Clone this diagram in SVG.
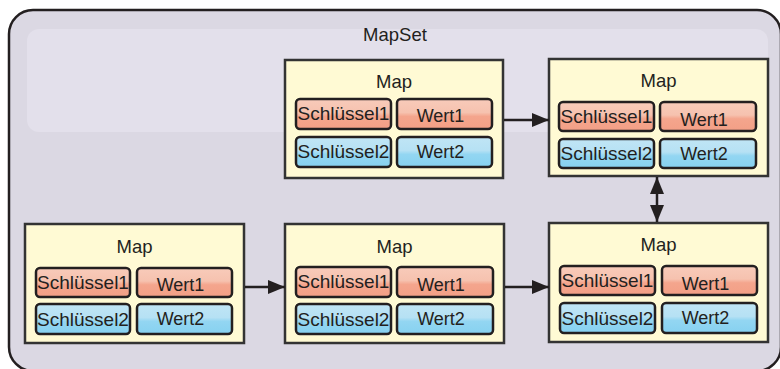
<svg xmlns="http://www.w3.org/2000/svg" width="780" height="369" viewBox="0 0 780 369">
<defs>
<linearGradient id="gk" x1="0" y1="0" x2="0" y2="1">
<stop offset="0" stop-color="#f8cbba"/><stop offset="0.45" stop-color="#f6c2af"/><stop offset="0.58" stop-color="#f4a58d"/><stop offset="1" stop-color="#f39f86"/>
</linearGradient>
<linearGradient id="gv" x1="0" y1="0" x2="0" y2="1">
<stop offset="0" stop-color="#c0e5f5"/><stop offset="0.45" stop-color="#b6e1f4"/><stop offset="0.58" stop-color="#93d6f2"/><stop offset="1" stop-color="#86d1f0"/>
</linearGradient>
<marker id="ah" markerWidth="17" markerHeight="14" refX="17" refY="7" orient="auto-start-reverse" markerUnits="userSpaceOnUse">
<path d="M0,0 L17,7 L0,14 Z" fill="#231f20"/>
</marker>
<style>
text{font-family:"Liberation Sans",Arial,sans-serif;font-size:18px;fill:#231f20;text-anchor:middle}
text.t{font-size:18.5px}
text.k{font-size:19px}
.map{fill:#fffad4;stroke:#333;stroke-width:2.5}
.k1{fill:url(#gk);stroke:#231f20;stroke-width:2.5}
.k2{fill:url(#gv);stroke:#231f20;stroke-width:2.5}
.conn{stroke:#231f20;stroke-width:2.5;fill:none}
</style>
</defs>
<g id="mapset">
<rect x="9" y="10" width="772" height="361" rx="24" fill="#dbd8e3" stroke="#231f20" stroke-width="2.5"/>
<rect x="27" y="29" width="741" height="103" rx="12" fill="#e3e0eb"/>
<text class="t" x="395" y="41">MapSet</text>
</g>
<g id="map-top-middle">
<rect class="map" x="285" y="60" width="218" height="118"/>
<text class="t" x="394" y="88">Map</text>
<rect class="k1" x="296" y="99" width="95" height="30" rx="4"/>
<text class="k" x="343.5" y="120">Schlüssel1</text>
<rect class="k1" x="397" y="99" width="95" height="30" rx="4"/>
<text x="440.5" y="122">Wert1</text>
<rect class="k2" x="296" y="137" width="95" height="30" rx="4"/>
<text class="k" x="343.5" y="158">Schlüssel2</text>
<rect class="k2" x="397" y="137" width="95" height="30" rx="4"/>
<text x="440.5" y="158">Wert2</text>
</g>
<g id="map-top-right">
<rect class="map" x="549" y="59" width="219" height="117"/>
<text class="t" x="658.5" y="87">Map</text>
<rect class="k1" x="559" y="102" width="95" height="29" rx="4"/>
<text class="k" x="606.5" y="123">Schlüssel1</text>
<rect class="k1" x="660" y="102" width="96" height="29" rx="4"/>
<text x="704" y="126">Wert1</text>
<rect class="k2" x="559" y="139" width="95" height="29" rx="4"/>
<text class="k" x="606.5" y="160">Schlüssel2</text>
<rect class="k2" x="660" y="139" width="96" height="29" rx="4"/>
<text x="704" y="160">Wert2</text>
</g>
<g id="map-bottom-left">
<rect class="map" x="25" y="224" width="219" height="119"/>
<text class="t" x="134.5" y="253">Map</text>
<rect class="k1" x="36" y="268" width="94" height="29" rx="4"/>
<text class="k" x="83" y="289">Schlüssel1</text>
<rect class="k1" x="137" y="268" width="95" height="29" rx="4"/>
<text x="180.5" y="291">Wert1</text>
<rect class="k2" x="36" y="304" width="94" height="30" rx="4"/>
<text class="k" x="83" y="326">Schlüssel2</text>
<rect class="k2" x="137" y="304" width="95" height="30" rx="4"/>
<text x="180.5" y="325">Wert2</text>
</g>
<g id="map-bottom-middle">
<rect class="map" x="285" y="224" width="219" height="119"/>
<text class="t" x="394.5" y="253">Map</text>
<rect class="k1" x="296" y="267" width="95" height="30" rx="4"/>
<text class="k" x="343.5" y="288">Schlüssel1</text>
<rect class="k1" x="397" y="267" width="96" height="30" rx="4"/>
<text x="441" y="291">Wert1</text>
<rect class="k2" x="296" y="304" width="95" height="30" rx="4"/>
<text class="k" x="343.5" y="326">Schlüssel2</text>
<rect class="k2" x="397" y="304" width="96" height="30" rx="4"/>
<text x="441" y="325">Wert2</text>
</g>
<g id="map-bottom-right">
<rect class="map" x="549" y="223" width="219" height="119"/>
<text class="t" x="658.5" y="251">Map</text>
<rect class="k1" x="560" y="266" width="95" height="29" rx="4"/>
<text class="k" x="607.5" y="287">Schlüssel1</text>
<rect class="k1" x="662" y="266" width="95" height="29" rx="4"/>
<text x="705.5" y="290">Wert1</text>
<rect class="k2" x="560" y="303" width="95" height="30" rx="4"/>
<text class="k" x="607.5" y="325">Schlüssel2</text>
<rect class="k2" x="662" y="303" width="95" height="30" rx="4"/>
<text x="705.5" y="324">Wert2</text>
</g>
<g id="connectors">
<line class="conn" x1="504" y1="120" x2="549" y2="120" marker-end="url(#ah)"/>
<line class="conn" x1="245" y1="287" x2="285" y2="287" marker-end="url(#ah)"/>
<line class="conn" x1="505" y1="287" x2="549" y2="287" marker-end="url(#ah)"/>
<line class="conn" x1="657" y1="177" x2="657" y2="222" marker-start="url(#ah)" marker-end="url(#ah)"/>
</g>
</svg>
